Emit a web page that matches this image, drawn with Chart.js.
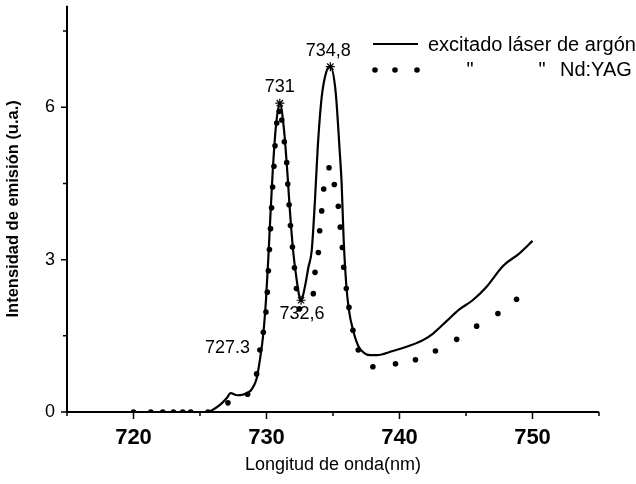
<!DOCTYPE html>
<html>
<head>
<meta charset="utf-8">
<script src="https://cdn.jsdelivr.net/npm/chart.js@4.4.0/dist/chart.umd.min.js"></script>
<style>
  body { margin: 0; background: #fff; }
  #wrap { width: 636px; height: 484px; }
</style>
</head>
<body>
<div id="wrap"><canvas id="emisionChart"></canvas></div>
<script>
/* ===========================
   SPECTRA DATA
=========================== */

// Argon laser excitation (solid line)
const waveArgon = [720, 723, 725.6, 726.0, 726.5, 727.0, 727.3, 727.8, 728.2, 728.6, 728.9,
    729.26, 729.5, 729.76, 729.96, 730.14, 730.3, 730.47, 730.7, 731, 731.3, 731.56, 731.75,
    732.0, 732.27, 732.45, 732.6, 732.75, 732.95, 733.15, 733.4, 733.65, 733.85, 734.15, 734.5,
    734.8, 735.2, 735.5, 735.65, 735.8, 736.0, 736.2, 736.5, 736.9, 737.3, 737.8, 738.3, 739.5,
    740.8, 741.8, 742.5, 743.5, 744.5, 745.5, 746.5, 747.8, 749, 750];
const intArgon = [0, 0, 0, 0.05, 0.14, 0.27, 0.37, 0.33, 0.34, 0.38, 0.45,
    0.66, 1.02, 1.54, 2.2, 3.05, 3.9, 4.75, 5.6, 6.08, 5.6, 4.75, 4.0,
    3.18, 2.6, 2.3, 2.2, 2.3, 2.55, 2.85, 3.18, 4.2, 5.2, 6.2, 6.7,
    6.8, 6.3, 5.15, 4.5, 3.4, 2.5, 2.0, 1.62, 1.3, 1.17, 1.12, 1.12, 1.2,
    1.31, 1.42, 1.54, 1.78, 2.02, 2.2, 2.45, 2.88, 3.12, 3.37];

// Nd:YAG excitation (dotted)
const waveYag = [720, 721.3, 722.2, 723.0, 723.7, 724.3, 725.6, 727.1, 728.58, 729.26,
    729.5, 729.76, 729.96, 730.06, 730.14, 730.22, 730.3, 730.38, 730.46, 730.56, 730.64,
    730.77, 730.95, 731.15, 731.34, 731.52, 731.6, 731.7, 731.8, 731.95, 732.1, 732.25,
    732.47, 733.52, 733.65, 733.9, 734.0, 734.15, 734.3, 734.7, 735.1, 735.4, 735.55,
    735.7, 735.8, 736.0, 736.2, 736.5, 736.9, 738.0, 739.7, 741.2, 742.7, 744.3, 745.8,
    747.4, 748.8];
const intYag = [0, 0, 0, 0, 0, 0, 0, 0.18, 0.35, 0.75,
    1.22, 1.57, 1.97, 2.36, 2.78, 3.2, 3.61, 4.02, 4.43, 4.84, 5.24,
    5.69, 5.92, 5.75, 5.32, 4.91, 4.49, 4.08, 3.67, 3.25, 2.84, 2.43,
    2.03, 2.33, 2.75, 3.14, 3.57, 3.96, 4.39, 4.81, 4.48, 4.05, 3.64,
    3.24, 2.85, 2.43, 2.06, 1.61, 1.22, 0.89, 0.95, 1.03, 1.2, 1.43, 1.69,
    1.94, 2.22];

// Marked peaks on the argon curve
const peakWave = [727.3, 731, 732.6, 734.8];
const peakText = ['727.3', '731', '732,6', '734,8'];
const peakInt = peakWave.map(w => intArgon[waveArgon.indexOf(w)]);

// Axis ticks
const xTickValues = [715, 720, 725, 730, 735, 740, 745, 750, 755];
const xTickLabels = ['', '720', '', '730', '', '740', '', '750', ''];
const yTickValues = [0, 1.5, 3, 4.5, 6, 7.5];
const yTickLabels = ['0', '', '3', '', '6', ''];

const toPoints = (xs, ys) => xs.map((x, i) => ({ x: x, y: ys[i] }));

const FONT = '"Liberation Sans", Arial, sans-serif';

/* ===========================
   PLUGINS
=========================== */

// Axis lines and tick marks (major ticks longer)
const axisFrame = {
    id: 'axisFrame',
    afterDatasetsDraw(chart) {
        const { ctx, chartArea: a, scales: { x, y } } = chart;
        ctx.save();
        ctx.strokeStyle = '#000';
        ctx.lineWidth = 2;
        ctx.beginPath();
        ctx.moveTo(a.left, a.top);
        ctx.lineTo(a.left, a.bottom);
        ctx.lineTo(a.right, a.bottom);
        ctx.stroke();

        ctx.lineWidth = 1.5;
        ctx.beginPath();
        xTickValues.forEach((v, i) => {
            const px = x.getPixelForValue(v);
            const len = xTickLabels[i] ? 7 : 4;
            ctx.moveTo(px, a.bottom);
            ctx.lineTo(px, a.bottom + len);
        });
        yTickValues.forEach((v, i) => {
            const py = y.getPixelForValue(v);
            const len = yTickLabels[i] ? 6 : 4;
            ctx.moveTo(a.left, py);
            ctx.lineTo(a.left - len, py);
        });
        ctx.stroke();
        ctx.restore();
    }
};

// Wavelength labels next to the marked peaks
const peakLabels = {
    id: 'peakLabels',
    afterDatasetsDraw(chart, args, opts) {
        const { ctx } = chart;
        const meta = chart.getDatasetMeta(2);
        ctx.save();
        ctx.font = '18px ' + FONT;
        ctx.fillStyle = '#000';
        ctx.textAlign = 'center';
        ctx.textBaseline = 'middle';
        meta.data.forEach((pt, i) => {
            const off = opts.offsets[i];
            ctx.fillText(peakText[i], pt.x + off[0], pt.y + off[1]);
        });
        ctx.restore();
    }
};

// Legend in the upper right
const legendBox = {
    id: 'legendBox',
    afterDraw(chart) {
        const { ctx } = chart;
        ctx.save();
        ctx.fillStyle = '#000';
        ctx.strokeStyle = '#000';
        ctx.font = '20px ' + FONT;
        ctx.textBaseline = 'middle';

        // solid sample
        ctx.lineWidth = 2;
        ctx.beginPath();
        ctx.moveTo(373, 44);
        ctx.lineTo(418, 44);
        ctx.stroke();
        ctx.fillText('excitado láser de argón', 428, 45);

        // dotted sample
        [375, 395, 417].forEach(cx => {
            ctx.beginPath();
            ctx.arc(cx, 70, 2.8, 0, Math.PI * 2);
            ctx.fill();
        });
        ctx.textAlign = 'center';
        ctx.fillText('"', 470, 70);
        ctx.fillText('"', 542, 70);
        ctx.textAlign = 'left';
        ctx.fillText('Nd:YAG', 560, 70);
        ctx.restore();
    }
};

/* ===========================
   CHART.JS CONFIGURATION
=========================== */

const ctx = document.getElementById('emisionChart');

new Chart(ctx, {
    type: 'scatter',
    data: {
        datasets: [{
            label: 'excitado láser de argón',
            data: toPoints(waveArgon, intArgon),
            showLine: true,
            borderColor: '#000',
            borderWidth: 2.2,
            cubicInterpolationMode: 'monotone',
            pointRadius: 0
        }, {
            label: 'Nd:YAG',
            data: toPoints(waveYag, intYag),
            showLine: false,
            pointRadius: 2.8,
            pointBackgroundColor: '#000',
            pointBorderWidth: 0
        }, {
            label: 'picos',
            data: toPoints(peakWave, peakInt),
            showLine: false,
            pointStyle: 'star',
            pointRadius: c => (c.dataIndex === 0 ? 0 : 4.5),
            pointBorderColor: '#000',
            pointBorderWidth: 1.2
        }]
    },
    options: {
        responsive: true,
        maintainAspectRatio: false,
        animation: false,
        layout: { padding: { top: 3, right: 37, left: 0, bottom: 0 } },
        scales: {
            x: {
                type: 'linear',
                min: 715,
                max: 755,
                afterBuildTicks: s => { s.ticks = xTickValues.map(v => ({ value: v })); },
                afterFit: s => {
                    s.height = 72;
                    s.paddingLeft = 0;
                    s.paddingRight = 0;
                },
                grid: { display: false, drawTicks: false },
                border: { display: false },
                ticks: {
                    color: '#000',
                    padding: 13,
                    autoSkip: false,
                    maxRotation: 0,
                    font: { family: FONT, size: 22, weight: 'bold' },
                    callback: (v, i) => xTickLabels[i]
                },
                title: {
                    display: true,
                    text: 'Longitud de onda(nm)',
                    color: '#000',
                    font: { family: FONT, size: 18 },
                    padding: { top: 0, bottom: 8 }
                }
            },
            y: {
                min: 0,
                max: 8,
                afterBuildTicks: s => { s.ticks = yTickValues.map(v => ({ value: v })); },
                afterFit: s => {
                    s.width = 67;
                    s.paddingTop = 0;
                    s.paddingBottom = 0;
                },
                grid: { display: false, drawTicks: false },
                border: { display: false },
                ticks: {
                    color: '#000',
                    padding: 12,
                    autoSkip: false,
                    font: { family: FONT, size: 18 },
                    callback: (v, i) => yTickLabels[i]
                },
                title: {
                    display: true,
                    text: 'Intensidad de emisión (u.a.)',
                    color: '#000',
                    font: { family: FONT, size: 16.5, weight: 'bold' },
                    padding: { top: 4, bottom: 0 }
                }
            }
        },
        plugins: {
            legend: { display: false },
            tooltip: { enabled: false },
            peakLabels: {
                offsets: [[-3, -45], [0, -16], [1, 14], [-2, -16]]
            }
        }
    },
    plugins: [axisFrame, peakLabels, legendBox]
});
</script>
</body>
</html>
